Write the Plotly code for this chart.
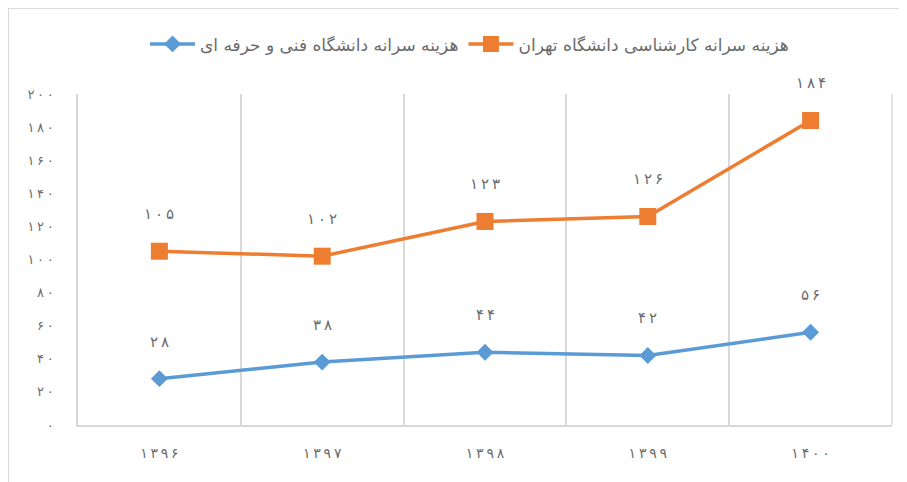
import plotly.graph_objects as go

years = ["۱۳۹۶", "۱۳۹۷", "۱۳۹۸", "۱۳۹۹", "۱۴۰۰"]
tehran = [105, 102, 123, 126, 184]
technical = [28, 38, 44, 42, 56]
tehran_labels = ["۱۰۵", "۱۰۲", "۱۲۳", "۱۲۶", "۱۸۴"]
technical_labels = ["۲۸", "۳۸", "۴۴", "۴۲", "۵۶"]
y_ticks = [0, 20, 40, 60, 80, 100, 120, 140, 160, 180, 200]
y_tick_labels = ["۰", "۲۰", "۴۰", "۶۰", "۸۰", "۱۰۰", "۱۲۰", "۱۴۰", "۱۶۰", "۱۸۰", "۲۰۰"]
name_technical = "هزینه سرانه دانشگاه فنی و حرفه ای"
name_tehran = "هزینه سرانه کارشناسی دانشگاه تهران"

BLUE = "#5B9BD5"
ORANGE = "#ED7D31"
GRAY = "#6b6b6b"
GRID = "#D9D9D9"
FONT = "DejaVu Sans, Noto Sans, sans-serif"
SP = "\u2009"


def spaced(s):
    return SP.join(list(s))


xs = list(range(len(years)))

fig = go.Figure()
fig.add_trace(go.Scatter(
    x=xs, y=technical, name=name_technical, mode="lines+markers",
    line=dict(color=BLUE, width=3.5),
    marker=dict(symbol="diamond", size=13, color=BLUE),
))
fig.add_trace(go.Scatter(
    x=xs, y=tehran, name=name_tehran, mode="lines+markers",
    line=dict(color=ORANGE, width=3.5),
    marker=dict(symbol="square", size=17, color=ORANGE),
))

annotations = []
for x, y, t in zip(xs, technical, technical_labels):
    annotations.append(dict(x=x, y=y, text=spaced(t), showarrow=False, yshift=37,
                            font=dict(size=15, color=GRAY, family=FONT)))
for x, y, t in zip(xs, tehran, tehran_labels):
    annotations.append(dict(x=x, y=y, text=spaced(t), showarrow=False, yshift=37,
                            font=dict(size=15, color=GRAY, family=FONT)))

fig.update_layout(
    width=907, height=482,
    margin=dict(l=70, r=23, t=86, b=65),
    paper_bgcolor="white", plot_bgcolor="white",
    font=dict(family=FONT, color=GRAY, size=13),
    showlegend=True,
    legend=dict(orientation="h", x=0.481, xanchor="center", y=1.15, yanchor="middle",
                font=dict(size=17, color=GRAY), itemwidth=45, tracegroupgap=0,
                bgcolor="rgba(0,0,0,0)"),
    annotations=annotations,
    shapes=[
        dict(type="line", xref="paper", yref="paper", x0=-0.086, x1=-0.086, y0=-0.3, y1=1.26,
             line=dict(color=GRID, width=2)),
        dict(type="line", xref="paper", yref="paper", x0=-0.086, x1=1.1, y0=1.26, y1=1.26,
             line=dict(color=GRID, width=2)),
        dict(type="line", xref="paper", yref="paper", x0=1, x1=1, y0=0, y1=1,
             line=dict(color=GRID, width=1.5)),
    ],
)

fig.update_xaxes(
    range=[-0.5, 4.5], tickvals=xs, ticktext=[spaced(y) for y in years],
    showgrid=False, zeroline=False,
    showline=True, linecolor=GRID, linewidth=1.5, ticks="",
    tickfont=dict(size=14, color=GRAY), ticklabelstandoff=14,
    minor=dict(tickvals=[0.5, 1.5, 2.5, 3.5], showgrid=True, gridcolor=GRID, gridwidth=1.5),
    fixedrange=True,
)
fig.update_yaxes(
    range=[0, 200], tickvals=y_ticks, ticktext=[spaced(t) for t in y_tick_labels],
    showgrid=False, zeroline=False,
    showline=True, linecolor=GRID, linewidth=1.5, ticks="",
    tickfont=dict(size=13, color=GRAY), ticklabelstandoff=20,
    fixedrange=True,
)

fig.write_html("out.html")
